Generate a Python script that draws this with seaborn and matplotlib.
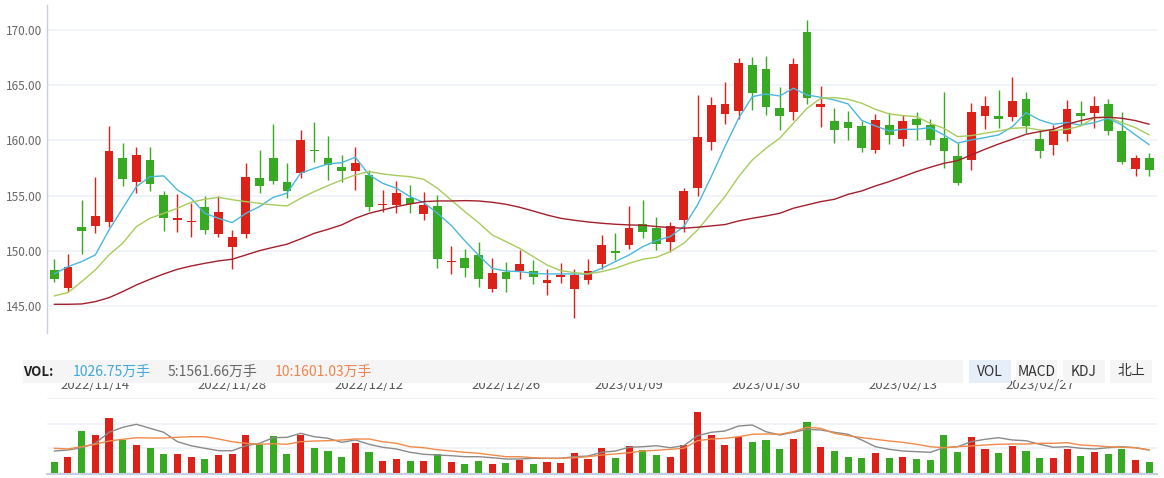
import numpy as np
import pandas as pd
import matplotlib
matplotlib.use("Agg")
import matplotlib.pyplot as plt
import matplotlib.transforms as mtransforms
from matplotlib.patches import Rectangle
import seaborn as sns

# ---------------- data ----------------
start_date = "2022-11-09"
end_date = "2023-03-09"
holidays = ["2023-01-02", "2023-01-23", "2023-01-24", "2023-01-25", "2023-01-26", "2023-01-27"]

tick_labels = ["2022/11/14", "2022/11/28", "2022/12/12", "2022/12/26",
               "2023/01/09", "2023/01/30", "2023/02/13", "2023/02/27"]

open_ = [148.26, 146.66, 152.13, 152.28, 152.64, 158.41, 156.26, 158.22, 155.05, 152.82,
         152.58, 153.97, 151.55, 150.37, 151.55, 156.59, 158.41, 156.23, 157.08, 159.13,
         158.41, 157.59, 157.26, 156.87, 154.18, 154.18, 154.75, 153.36, 154.06, 148.99,
         149.35, 149.62, 146.57, 148.08, 148.17, 148.17, 147.11, 147.66, 146.57, 147.39,
         148.83, 149.98, 150.56, 152.43, 152.07, 150.83, 152.82, 155.72, 159.89, 162.42,
         162.69, 166.83, 166.47, 162.93, 162.60, 169.82, 163.06, 161.76, 161.67, 161.30,
         159.16, 161.40, 160.16, 161.94, 161.40, 160.22, 158.62, 158.25, 162.24, 162.21,
         162.12, 163.75, 160.13, 159.61, 160.61, 162.48, 162.51, 163.30, 160.85, 157.44,
         158.41]
close = [147.48, 148.53, 151.82, 153.15, 159.04, 156.53, 158.68, 156.02, 153.00, 152.94,
         152.70, 151.91, 153.51, 151.25, 156.68, 155.90, 156.35, 155.45, 160.04, 159.04,
         157.74, 157.26, 157.95, 154.00, 154.27, 155.24, 154.21, 154.15, 149.29, 149.08,
         148.47, 147.48, 147.99, 147.48, 148.80, 147.66, 147.36, 147.84, 147.81, 148.17,
         150.53, 149.83, 152.07, 151.73, 150.65, 152.25, 155.42, 160.31, 163.21, 163.30,
         167.01, 164.32, 163.06, 162.24, 166.92, 163.87, 163.30, 160.97, 161.15, 159.34,
         161.85, 160.52, 161.76, 161.40, 160.07, 159.07, 156.17, 162.57, 163.12, 161.97,
         163.57, 161.33, 159.07, 160.97, 162.84, 162.24, 163.12, 160.88, 158.07, 158.41,
         157.35]
high = [149.26, 149.71, 154.60, 156.68, 161.30, 159.76, 159.40, 159.40, 155.42, 155.14,
        154.30, 154.96, 154.96, 151.88, 157.98, 159.13, 161.49, 157.95, 160.94, 161.67,
        160.40, 158.68, 159.40, 157.32, 155.51, 156.32, 155.96, 155.33, 155.05, 150.43,
        150.16, 150.80, 149.35, 148.99, 150.07, 149.17, 148.35, 148.89, 148.35, 149.26,
        151.43, 151.61, 154.06, 154.60, 153.06, 152.61, 155.69, 164.11, 163.93, 165.29,
        167.46, 167.55, 167.64, 164.84, 167.46, 170.91, 164.93, 162.93, 162.66, 161.79,
        162.39, 162.51, 162.30, 162.57, 161.94, 164.38, 159.79, 163.39, 164.02, 164.56,
        165.74, 164.38, 160.97, 161.40, 163.66, 163.57, 164.02, 163.75, 162.57, 158.68,
        158.86]
low = [147.20, 146.30, 149.71, 151.64, 152.19, 155.90, 155.27, 155.45, 151.82, 151.73,
       151.28, 151.49, 151.28, 148.38, 151.16, 155.27, 156.05, 154.81, 156.62, 158.04,
       156.41, 156.26, 155.51, 153.64, 153.55, 153.45, 153.45, 152.79, 148.47, 147.90,
       147.66, 146.75, 146.30, 146.30, 147.48, 147.02, 146.03, 147.11, 143.94, 147.02,
       148.38, 149.20, 150.19, 151.19, 150.10, 149.89, 151.73, 154.99, 159.13, 161.52,
       161.97, 162.78, 162.33, 160.97, 161.85, 163.30, 161.24, 159.79, 160.07, 158.98,
       158.89, 159.67, 159.52, 160.07, 159.61, 157.53, 155.99, 157.35, 161.06, 161.12,
       161.79, 160.70, 158.44, 158.71, 159.98, 161.42, 161.15, 160.52, 157.89, 156.81,
       156.81]

ma5 = [147.90, 148.56, 149.02, 149.62, 151.88, 153.85, 155.81, 156.71, 156.78, 155.51,
       154.75, 153.39, 152.94, 152.55, 153.39, 154.00, 154.84, 155.21, 157.02, 157.47,
       157.86, 157.98, 158.47, 156.87, 156.11, 155.66, 154.90, 154.36, 153.39, 152.30,
       150.90, 149.60, 148.40, 148.17, 148.11, 147.96, 147.90, 147.90, 147.90, 147.90,
       148.41, 149.02, 149.62, 150.37, 150.92, 151.28, 152.19, 154.15, 156.71, 159.43,
       162.00, 163.96, 164.20, 164.02, 164.72, 164.11, 163.90, 163.66, 163.30, 161.80,
       161.30, 160.85, 161.00, 161.00, 161.15, 160.49, 159.75, 160.04, 160.25, 160.49,
       161.24, 162.51, 161.85, 161.46, 161.61, 161.37, 161.61, 162.00, 161.40, 160.49,
       159.60]
ma10 = [145.91, 146.21, 147.20, 148.26, 149.62, 150.68, 152.19, 152.94, 153.39, 153.85,
        154.39, 154.66, 154.84, 154.62, 154.45, 154.30, 154.15, 154.06, 154.75, 155.36,
        155.90, 156.41, 156.87, 157.17, 156.96, 156.81, 156.71, 156.47, 155.66, 154.60,
        153.54, 152.55, 151.43, 150.83, 150.22, 149.47, 148.71, 148.20, 148.02, 147.90,
        148.11, 148.41, 148.86, 149.23, 149.41, 149.92, 150.68, 151.88, 153.39, 154.90,
        156.71, 158.22, 159.28, 160.19, 161.55, 162.90, 163.81, 163.87, 163.72, 163.36,
        162.81, 162.39, 162.24, 162.15, 161.55, 161.09, 160.34, 160.43, 160.64, 160.85,
        161.09, 161.15, 160.94, 160.88, 161.00, 161.30, 162.06, 162.09, 161.61, 161.15,
        160.49]
ma30 = [145.15, 145.15, 145.18, 145.39, 145.75, 146.30, 146.90, 147.42, 147.90, 148.32,
        148.62, 148.86, 149.08, 149.23, 149.62, 150.01, 150.31, 150.59, 151.07, 151.58,
        151.94, 152.34, 152.94, 153.39, 153.70, 154.00, 154.24, 154.45, 154.51, 154.51,
        154.54, 154.51, 154.39, 154.21, 153.94, 153.60, 153.24, 152.94, 152.76, 152.61,
        152.49, 152.40, 152.34, 152.31, 152.19, 152.10, 152.04, 152.13, 152.25, 152.37,
        152.70, 152.94, 153.15, 153.39, 153.85, 154.15, 154.45, 154.66, 155.11, 155.42,
        155.87, 156.26, 156.71, 157.17, 157.56, 157.92, 158.16, 158.68, 159.19, 159.67,
        160.10, 160.55, 160.79, 161.00, 161.46, 161.79, 162.06, 162.09, 162.00, 161.79,
        161.46]

volume = [1027, 1444, 3614, 3280, 4699, 2863, 2446, 2195, 1694, 1694,
          1444, 1277, 1611, 1694, 3280, 2529, 3197, 1694, 3280, 2195,
          1945, 1444, 2613, 1861, 1110, 1277, 1110, 1110, 1694, 1027,
          860, 1110, 860, 943, 1194, 860, 1027, 943, 1778, 1277,
          2195, 1361, 2362, 2028, 1611, 1444, 2446, 5200, 3280, 2446,
          3113, 2696, 2863, 2112, 2946, 4365, 2279, 1945, 1444, 1361,
          1778, 1361, 1444, 1277, 1194, 3280, 1861, 3113, 2112, 1778,
          2362, 1945, 1361, 1361, 2112, 1527, 1861, 1694, 2112, 1194,
          1027]
vol_ma5 = [1945, 2028, 2220, 2588, 3506, 3923, 4173, 3840, 3506, 2721,
           2387, 2170, 1970, 1970, 2387, 2588, 3055, 3083, 3422, 3138,
           3005, 2671, 2863, 2504, 2254, 2112, 1836, 1669, 1611, 1553,
           1469, 1469, 1386, 1277, 1277, 1336, 1336, 1336, 1469, 1527,
           1836, 1945, 2254, 2304, 2387, 2220, 2387, 3222, 3506, 3614,
           4032, 4115, 3556, 3280, 3506, 3756, 3698, 3506, 3339, 2863,
           2304, 2087, 1945, 1886, 1836, 2220, 2304, 2721, 2921, 3055,
           2863, 2804, 2504, 2254, 2304, 2170, 2112, 2220, 2304, 2220,
           2028]
vol_ma10 = [2170, 2112, 2304, 2504, 2780, 2921, 3055, 3030, 3030, 3089,
            3138, 3138, 2946, 2721, 2588, 2504, 2554, 2504, 2721, 2780,
            2804, 2863, 2946, 2946, 2721, 2588, 2304, 2220, 2053, 1945,
            1836, 1753, 1611, 1469, 1469, 1386, 1336, 1336, 1386, 1469,
            1611, 1694, 1803, 1945, 2003, 2087, 2170, 2804, 2946, 3005,
            3138, 3339, 3364, 3339, 3556, 3923, 3840, 3422, 3222, 3055,
            2921, 2780, 2671, 2504, 2304, 2220, 2304, 2362, 2446, 2504,
            2529, 2529, 2588, 2588, 2638, 2446, 2387, 2304, 2254, 2220,
            2028]

vol_header = ["VOL:", "1026.75万手", "5:1561.66万手", "10:1601.03万手"]
buttons = ["VOL", "MACD", "KDJ", "北上"]
price_ticks = [145, 150, 155, 160, 165, 170]

# ---------------- styling ----------------
RED = "#dc2218"
GREEN = "#38a922"
C_MA5 = "#4ab8dc"
C_MA10 = "#a8cb5c"
C_MA30 = "#a31f2c"
C_VMA5 = "#8a8a8a"
C_VMA10 = "#f08a4a"
GRID = "#eff2f7"
AXIS = "#c6cfe2"
TXT = "#666666"

sns.set_theme(style="white")
plt.rcParams["font.family"] = ["Noto Sans CJK SC", "DejaVu Sans"]

W, H = 1164, 478
fig = plt.figure(figsize=(W / 100, H / 100), dpi=100)
fig.patch.set_facecolor("white")


def fx(px):
    return px / W


def fy(py):
    return 1 - py / H


dates = pd.bdate_range(start_date, end_date)
dates = dates[~dates.isin(pd.to_datetime(holidays))]
date_str = [d.strftime("%Y/%m/%d") for d in dates]
xs = np.arange(len(dates))

o = np.array(open_)
c = np.array(close)
hi = np.array(high)
lo = np.array(low)
up = c >= o
colors = np.where(up, RED, GREEN)
direction = np.where(up, "up", "down")

XL = (-0.53, 80.57)

# ---------------- price pane ----------------
ax = fig.add_axes([fx(47), fy(333), fx(1157 - 47), (333 - 5) / H])
ax.set_facecolor("white")
for y in price_ticks:
    ax.axhline(y, color=GRID, lw=1.3, zorder=0)
ax.vlines(xs, lo, hi, colors=colors, lw=1.0, zorder=2)
body_bottom = np.minimum(o, c)
body_h = np.maximum(np.abs(c - o), 0.09)
ax.bar(xs, body_h, bottom=body_bottom, width=0.64, color=colors, linewidth=0, zorder=3)

sns.lineplot(x=xs, y=ma5, ax=ax, color=C_MA5, linewidth=1.0, zorder=4)
sns.lineplot(x=xs, y=ma10, ax=ax, color=C_MA10, linewidth=1.0, zorder=4)
sns.lineplot(x=xs, y=ma30, ax=ax, color=C_MA30, linewidth=1.0, zorder=4)

ax.set_xlim(*XL)
ax.set_ylim(142.55, 172.26)
ax.set_yticks(price_ticks)
ax.set_yticklabels([f"{v:.2f}" for v in price_ticks])
ax.tick_params(axis="y", length=0, pad=3.5, labelsize=8.5, labelcolor=TXT)
ax.set_xticks([])
ax.set_xlabel("")
ax.set_ylabel("")
for s in ["top", "right", "bottom"]:
    ax.spines[s].set_visible(False)
ax.spines["left"].set_color(AXIS)
ax.spines["left"].set_linewidth(1.0)

# ---------------- volume pane ----------------
axv = fig.add_axes([fx(47), fy(474.3), fx(1157 - 47), (474.3 - 398) / H])
axv.set_facecolor("white")
vtop = 6369
for y in [2195, 4199, vtop]:
    axv.axhline(y, color=GRID, lw=1.3, zorder=0)
sns.barplot(x=xs, y=volume, hue=direction, hue_order=["up", "down"],
            palette={"up": RED, "down": GREEN}, dodge=False, native_scale=True,
            width=0.52, errorbar=None, legend=False, saturation=1, linewidth=0,
            ax=axv, zorder=2)
sns.lineplot(x=xs, y=vol_ma5, ax=axv, color=C_VMA5, linewidth=1.0, zorder=4)
sns.lineplot(x=xs, y=vol_ma10, ax=axv, color=C_VMA10, linewidth=1.0, zorder=4)
axv.set_xlim(*XL)
axv.set_ylim(0, vtop)
axv.set_xticks([])
axv.set_yticks([])
axv.set_xlabel("")
axv.set_ylabel("")
for s in ["top", "right", "left"]:
    axv.spines[s].set_visible(False)
axv.spines["bottom"].set_color(AXIS)
axv.spines["bottom"].set_linewidth(1.5)

# ---------------- date labels (partly hidden by the header band) ----------------
blend = mtransforms.blended_transform_factory(ax.transData, fig.transFigure)
for lab in tick_labels:
    i = date_str.index(lab)
    fig.text(xs[i], fy(389.0), lab, transform=blend, ha="center", va="baseline",
             fontsize=9.5, color="#555555", zorder=2)

# ---------------- header band ----------------
fig.add_artist(Rectangle((fx(23), fy(383)), fx(963 - 23), (383 - 360) / H,
                         transform=fig.transFigure, facecolor="#f5f5f5",
                         edgecolor="none", zorder=5))
hy = fy(371.5)
fig.text(fx(23), hy, vol_header[0], ha="left", va="center", fontsize=9.5,
         fontweight="bold", color="#222222", zorder=6)
fig.text(fx(73), hy, vol_header[1], ha="left", va="center", fontsize=10,
         color="#3fa7d9", zorder=6)
fig.text(fx(168), hy, vol_header[2], ha="left", va="center", fontsize=10,
         color="#666666", zorder=6)
fig.text(fx(275), hy, vol_header[3], ha="left", va="center", fontsize=10,
         color="#f0834e", zorder=6)

btn_x = [(969, 1011), (1016, 1057), (1063, 1105), (1110, 1152)]
btn_bg = ["#e6eef9", "#f5f5f5", "#f5f5f5", "#f5f5f5"]
for (x0, x1), lab, bg in zip(btn_x, buttons, btn_bg):
    fig.add_artist(Rectangle((fx(x0), fy(383)), fx(x1 - x0), (383 - 360) / H,
                             transform=fig.transFigure, facecolor=bg,
                             edgecolor="none", zorder=5))
    fig.text(fx((x0 + x1) / 2), hy, lab, ha="center", va="center", fontsize=10,
             color="#333333", zorder=6)

fig.savefig("out.png", dpi=100, facecolor="white")
